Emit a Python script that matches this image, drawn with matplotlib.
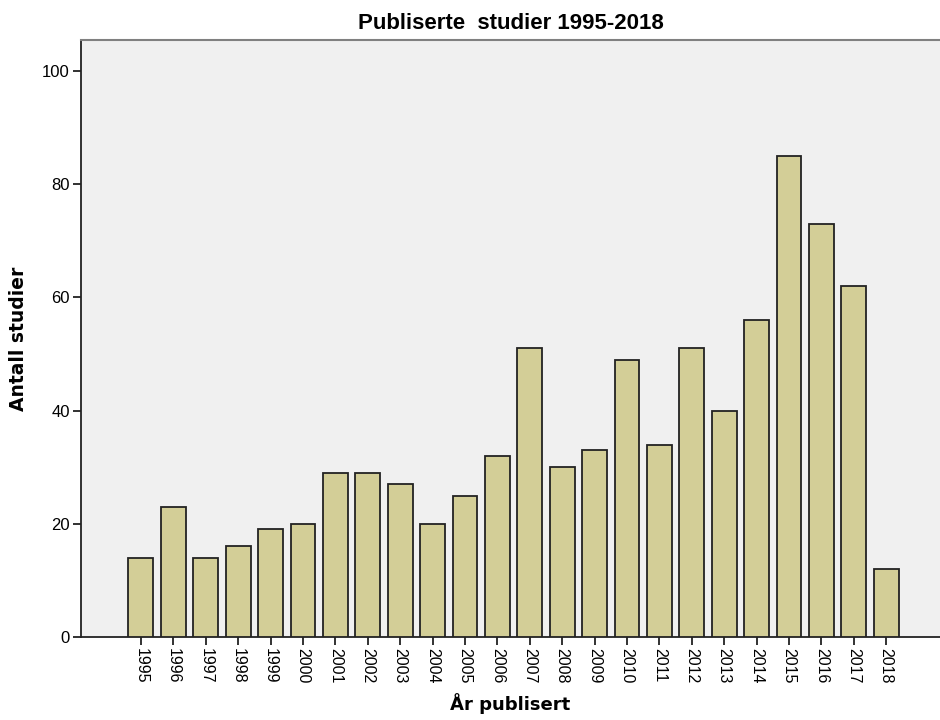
import numpy as np
import matplotlib.pyplot as plt

# data
years = [str(y) for y in range(1995, 2019)]
counts = [14, 23, 14, 16, 19, 20, 29, 29, 27, 20, 25, 32,
          51, 30, 33, 49, 34, 51, 40, 56, 85, 73, 62, 12]
yticks = [0, 20, 40, 60, 80, 100]

fig = plt.figure(figsize=(9.4, 7.2), dpi=100)
ax = fig.add_axes([0.0862, 0.1153, 0.9138, 0.8291])
ax.set_facecolor('#F0F0F0')

x = np.arange(len(years))
ax.bar(x, counts, width=0.77, color='#D3CE97', edgecolor='#222222', linewidth=1.3, zorder=3)

ax.set_xlim(-1.85, 24.66)
ax.set_ylim(0, 105.5)
ax.set_xticks(x)
ax.set_xticklabels(years, rotation=-90, fontsize=11.5, family='Liberation Sans')
ax.set_yticks(yticks)
ax.set_yticklabels([str(v) for v in yticks], fontsize=12, family='Liberation Sans')
ax.tick_params(axis='both', direction='out', length=6, width=1.3, color='#222222', pad=2)

for side in ['left', 'bottom']:
    ax.spines[side].set_color('#222222')
    ax.spines[side].set_linewidth(1.3)
ax.spines['top'].set_color('#808080')
ax.spines['top'].set_linewidth(1.5)
ax.spines['right'].set_visible(False)

ax.set_title('Publiserte  studier 1995-2018', fontsize=16, fontweight='bold',
             family='Liberation Sans', pad=8)
ax.set_ylabel('Antall studier', fontsize=13.5, fontweight='bold', labelpad=10)
ax.set_xlabel('År publisert', fontsize=13, fontweight='bold', labelpad=7)

fig.savefig('out.png', dpi=100)
